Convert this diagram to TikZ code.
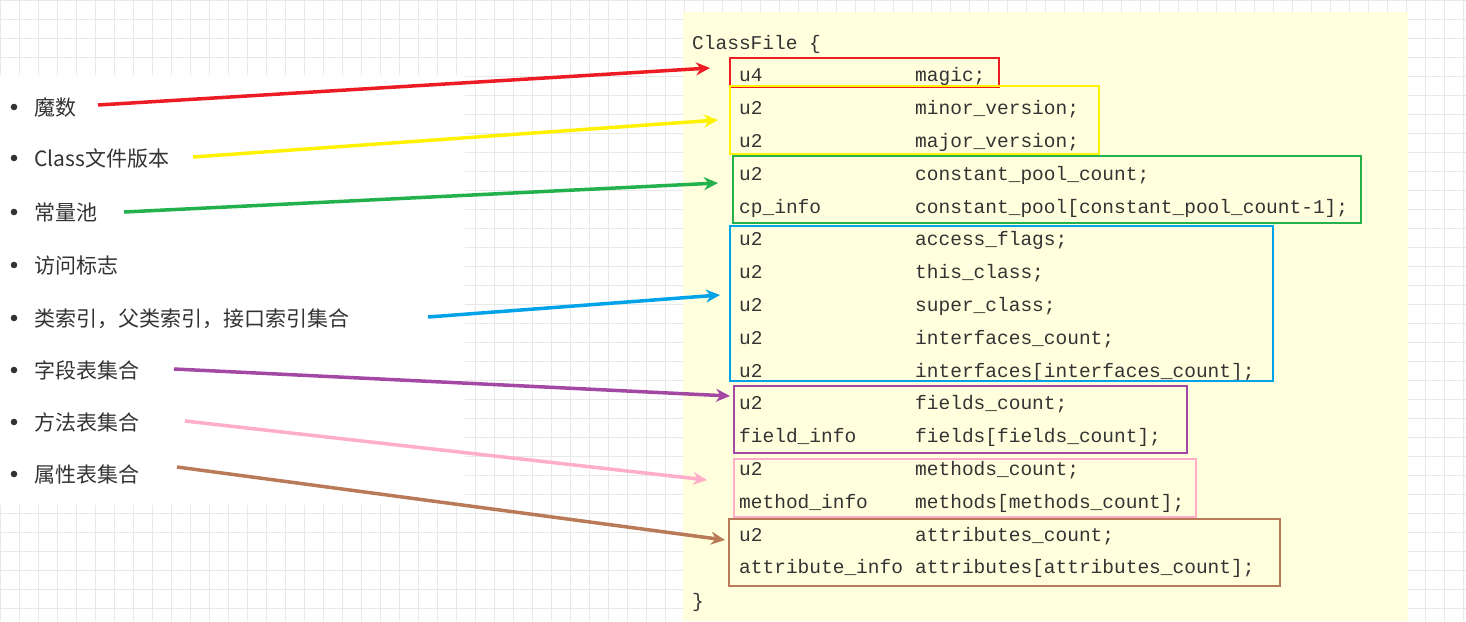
\documentclass[tikz,border=0pt]{standalone}
\usepackage{fontspec}
\setmonofont{Liberation Mono}
\newfontfamily\cjk{Noto Sans CJK SC}
\usetikzlibrary{arrows.meta}
\definecolor{cred}{HTML}{ED1C24}
\definecolor{cyel}{HTML}{FFF200}
\definecolor{cgrn}{HTML}{22B14C}
\definecolor{cblu}{HTML}{00A2E8}
\definecolor{cpur}{HTML}{A349A4}
\definecolor{cpnk}{HTML}{FFAEC9}
\definecolor{cbrn}{HTML}{B97A57}
\definecolor{panel}{HTML}{FFFFDD}
\definecolor{gridc}{HTML}{E8E8E8}
\definecolor{txt}{HTML}{333333}
\tikzset{
  code/.style={anchor=base west,inner sep=0pt,font=\ttfamily\fontsize{19.5}{20}\selectfont,text=txt},
  item/.style={anchor=base west,inner sep=0pt,font=\cjk\fontsize{21}{24}\selectfont,text=txt},
  grp/.style={draw=#1,line width=1.6pt},
  arr/.style={draw=#1,line width=3.5pt,-{Stealth[length=14pt,width=13pt]}}
}
\begin{document}
\begin{tikzpicture}[x=1pt,y=-1pt]
\useasboundingbox (0,0) rectangle (1466,621);
\fill[white] (0,0) rectangle (1466,621);
\draw[gridc,line width=0.8pt] (0,0) grid[step=19pt] (1466,621);
\fill[white] (0,75) rectangle (465,505);
\fill[panel] (683,12) rectangle (1408,621);
% code
\node[code] (c0) at (692,49) {ClassFile \{};
\foreach \i/\a/\b in {1/u4/magic;,2/u2/minor\_version;,3/u2/major\_version;,4/u2/constant\_pool\_count;,5/cp\_info/constant\_pool[constant\_pool\_count-1];,6/u2/access\_flags;,7/u2/this\_class;,8/u2/super\_class;,9/u2/interfaces\_count;,10/u2/interfaces[interfaces\_count];,11/u2/fields\_count;,12/field\_info/fields[fields\_count];,13/u2/methods\_count;,14/method\_info/methods[methods\_count];,15/u2/attributes\_count;,16/attribute\_info/attributes[attributes\_count];}{
  \node[code] (a\i) at (739,{49+32.8*\i}) {\a};
  \node[code] (b\i) at (915,{49+32.8*\i}) {\b};
}
\node[code] (c17) at (692,607) {\}};
% boxes
\node[grp=cred,inner sep=0pt,anchor=north west,minimum width=269pt,minimum height=29pt] (gr) at (729,57) {};
\node[grp=cyel,inner sep=0pt,anchor=north west,minimum width=369pt,minimum height=68pt] (gy) at (729,85) {};
\node[grp=cgrn,inner sep=0pt,anchor=north west,minimum width=628pt,minimum height=67pt] (gg) at (732,155) {};
\node[grp=cblu,inner sep=0pt,anchor=north west,minimum width=543pt,minimum height=155pt] (gb) at (729,225) {};
\node[grp=cpur,inner sep=0pt,anchor=north west,minimum width=453pt,minimum height=67pt] (gp) at (733,385) {};
\node[grp=cpnk,inner sep=0pt,anchor=north west,minimum width=462pt,minimum height=58pt] (gk) at (733,458) {};
\node[grp=cbrn,inner sep=0pt,anchor=north west,minimum width=551pt,minimum height=67pt] (gn) at (728,518) {};
% list
\foreach \i/\t/\y in {1/魔数/115,2/{Class文件版本}/166,3/常量池/220,4/访问标志/273,5/{类索引，父类索引，接口索引集合}/326,6/字段表集合/378,7/方法表集合/430,8/属性表集合/482}{
  \fill[txt] (14,\y-8) circle (3.3pt);
  \node[item] (l\i) at (34,\y) {\t};
}
% arrow endpoints
\coordinate (s1) at (98,105); \coordinate (e1) at (710,68);
\coordinate (s2) at (193,157); \coordinate (e2) at (718,120);
\coordinate (s3) at (124,212); \coordinate (e3) at (718,183);
\coordinate (s5) at (428,317); \coordinate (e5) at (720,295);
\coordinate (s6) at (174,369); \coordinate (e6) at (730,396);
\coordinate (s7) at (185,421); \coordinate (e7) at (707,480);
\coordinate (s8) at (177,467); \coordinate (e8) at (725,540);
\draw[arr=cred] (s1) -- (e1);
\draw[arr=cyel] (s2) -- (e2);
\draw[arr=cgrn] (s3) -- (e3);
\draw[arr=cblu] (s5) -- (e5);
\draw[arr=cpur] (s6) -- (e6);
\draw[arr=cpnk] (s7) -- (e7);
\draw[arr=cbrn] (s8) -- (e8);
\end{tikzpicture}
\end{document}
